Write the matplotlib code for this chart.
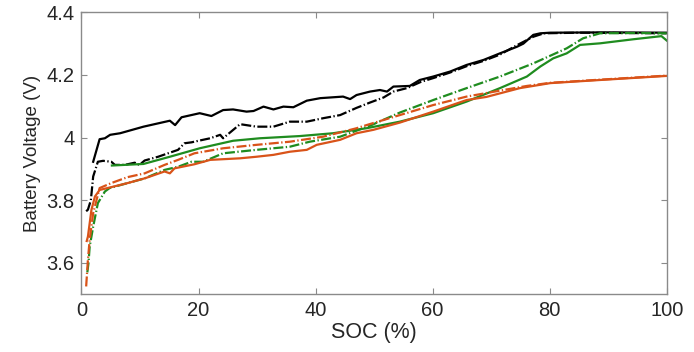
import numpy as np
import matplotlib.pyplot as plt

# black, solid
soc_k1 = [2.0, 3.1, 4.0, 4.9, 6.6, 10.6, 15.1, 16.0, 17.1, 20.2, 22.2, 24.2, 25.9, 28.2, 29.4,
          31.1, 32.8, 34.5, 36.2, 38.5, 40.8, 44.7, 45.9, 47.0, 49.3, 51.0, 52.2, 53.3, 56.1,
          57.8, 60.1, 63.0, 65.8, 68.7, 71.5, 74.4, 75.5, 77.2, 78.4, 80.1, 90.0, 100.0]
v_k1 = [3.923, 3.995, 3.998, 4.009, 4.014, 4.035, 4.054, 4.040, 4.065, 4.078, 4.069, 4.088,
        4.090, 4.083, 4.085, 4.099, 4.090, 4.099, 4.097, 4.118, 4.126, 4.131, 4.123, 4.136,
        4.147, 4.152, 4.147, 4.163, 4.165, 4.184, 4.195, 4.211, 4.232, 4.248, 4.269, 4.290,
        4.300, 4.328, 4.333, 4.335, 4.336, 4.335]

# black, dash-dot
soc_k2 = [0.8, 1.1, 1.6, 2.0, 2.8, 3.7, 5.1, 5.7, 7.4, 9.1, 9.9, 10.8, 13.1, 14.8, 16.5, 17.6,
          18.8, 20.0, 22.0, 23.7, 24.2, 27.1, 29.9, 32.8, 35.6, 38.5, 41.3, 44.2, 47.0, 49.3,
          51.6, 53.3, 55.6, 58.0, 60.1, 63.0, 65.8, 68.7, 71.5, 74.4, 77.2, 79.0, 85.0, 100.0]
v_k2 = [3.765, 3.770, 3.800, 3.876, 3.923, 3.926, 3.923, 3.913, 3.913, 3.920, 3.913, 3.927,
        3.939, 3.950, 3.961, 3.982, 3.985, 3.990, 3.998, 4.009, 3.998, 4.043, 4.035, 4.035,
        4.051, 4.051, 4.062, 4.072, 4.095, 4.112, 4.128, 4.147, 4.158, 4.178, 4.190, 4.208,
        4.228, 4.245, 4.265, 4.295, 4.322, 4.333, 4.335, 4.333]

# green, solid
soc_g1 = [5.2, 10.6, 15.1, 20.2, 25.9, 30.5, 37.3, 43.0, 48.7, 54.4, 60.1, 65.8, 71.5, 76.1,
          78.4, 80.6, 82.9, 85.2, 88.6, 94.3, 99.1, 100.0]
v_g1 = [3.911, 3.916, 3.939, 3.966, 3.990, 3.998, 4.005, 4.014, 4.030, 4.051, 4.078, 4.115,
        4.158, 4.195, 4.227, 4.253, 4.269, 4.296, 4.301, 4.314, 4.324, 4.310]

# green, dash-dot
soc_g2 = [1.0, 1.2, 1.4, 2.0, 2.8, 4.0, 4.8, 7.9, 10.8, 14.2, 16.5, 18.8, 20.8, 24.2, 29.9,
          35.6, 39.0, 44.2, 49.3, 54.4, 60.1, 65.8, 71.5, 77.2, 82.9, 85.7, 88.6, 95.0, 100.0]
v_g2 = [3.570, 3.600, 3.652, 3.716, 3.791, 3.828, 3.839, 3.855, 3.870, 3.897, 3.907, 3.923,
        3.923, 3.950, 3.961, 3.971, 3.987, 4.003, 4.038, 4.080, 4.120, 4.158, 4.195, 4.237,
        4.285, 4.317, 4.333, 4.334, 4.333]

# orange, solid
soc_o1 = [0.9, 1.1, 1.7, 2.3, 3.1, 5.1, 7.9, 10.8, 14.2, 15.1, 15.9, 19.3, 22.0, 27.1, 29.9,
          32.8, 35.6, 38.5, 40.2, 44.2, 47.0, 49.9, 54.4, 60.1, 65.8, 69.2, 74.9, 80.1, 88.6,
          100.0]
v_o1 = [3.670, 3.684, 3.769, 3.812, 3.833, 3.842, 3.855, 3.870, 3.892, 3.886, 3.902, 3.915,
        3.929, 3.934, 3.939, 3.945, 3.955, 3.961, 3.977, 3.993, 4.014, 4.025, 4.048, 4.083,
        4.120, 4.130, 4.158, 4.174, 4.184, 4.197]

# orange, dash-dot
soc_o2 = [0.8, 1.1, 1.4, 2.0, 3.1, 5.1, 7.9, 10.8, 14.2, 16.5, 19.3, 24.2, 29.9, 35.6, 41.3,
          47.0, 48.7, 54.4, 60.1, 65.8, 71.5, 76.1, 80.1, 88.6, 100.0]
v_o2 = [3.525, 3.610, 3.674, 3.759, 3.839, 3.855, 3.874, 3.886, 3.913, 3.929, 3.950, 3.966,
        3.977, 3.987, 4.003, 4.030, 4.040, 4.072, 4.104, 4.131, 4.150, 4.165, 4.175, 4.185,
        4.198]

xticks = [0, 20, 40, 60, 80, 100]
yticks = [3.6, 3.8, 4.0, 4.2, 4.4]
ytick_labels = ['3.6', '3.8', '4', '4.2', '4.4']

plt.rcParams['font.family'] = ['Liberation Sans', 'DejaVu Sans']

BLACK = '#000000'
GREEN = '#1f8c1f'
ORANGE = '#d95319'
DASHDOT = (0, (4.5, 1.1, 0.6, 1.1))
LW = 1.6

fig = plt.figure(figsize=(6.94, 3.52), dpi=100)
ax = fig.add_axes([0.1174, 0.164, 0.8433, 0.801])

ax.plot(soc_k1, v_k1, color=BLACK, lw=LW)
ax.plot(soc_k2, v_k2, color=BLACK, lw=LW, linestyle=DASHDOT)
ax.plot(soc_g1, v_g1, color=GREEN, lw=LW)
ax.plot(soc_g2, v_g2, color=GREEN, lw=LW, linestyle=DASHDOT)
ax.plot(soc_o1, v_o1, color=ORANGE, lw=LW)
ax.plot(soc_o2, v_o2, color=ORANGE, lw=LW, linestyle=DASHDOT)

ax.set_xlim(0, 100)
ax.set_ylim(3.5, 4.4)
ax.set_xticks(xticks)
ax.set_yticks(yticks)
ax.set_yticklabels(ytick_labels)

for s in ax.spines.values():
    s.set_color('#8a8a8a')
    s.set_linewidth(1.0)
ax.tick_params(direction='in', length=4.5, width=0.8, color='#8a8a8a',
               top=True, right=True, labelsize=14.5, labelcolor='#262626', pad=5)

ax.set_xlabel('SOC (%)', fontsize=15.5, color='#262626', labelpad=1)
ax.set_ylabel('Battery Voltage (V)', fontsize=13.5, color='#262626', labelpad=4)

fig.savefig('out.png', dpi=100)
